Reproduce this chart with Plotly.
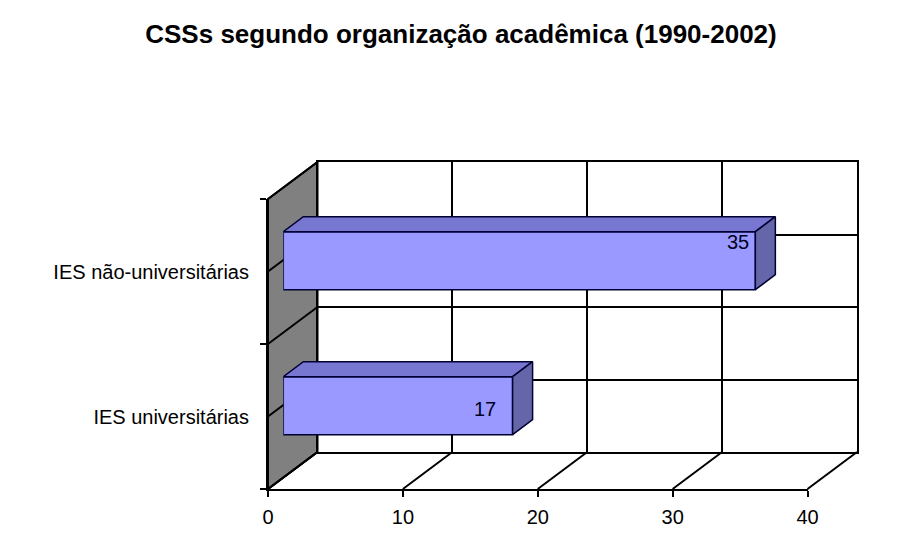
import plotly.graph_objects as go

# ---------------- data ----------------
categories = ["IES universitárias", "IES não-universitárias"]
values = [17, 35]
x_ticks = [0, 10, 20, 30, 40]
title_text = "CSSs segundo organização acadêmica (1990-2002)"

# ---------------- style / geometry ----------------
PAGE_W, PAGE_H = 903, 552
BODY_MARGIN = 8                        # default html body margin
W, H = PAGE_W - 2 * BODY_MARGIN, PAGE_H - 2 * BODY_MARGIN
FRONT_X0, FRONT_X1 = 268.0, 807.5      # pixel position of x=0 / x=40 on front plane
FRONT_TOP, FRONT_BOTTOM = 199.0, 489.0
DEPTH = (49.5, -37.0)                   # front plane -> back wall offset (px)
BAR_OFF = (15.3, -10.8)                 # front plane -> bar front face offset (px)
BAR_DEPTH = (20.0, -15.0)               # bar front face -> bar back face (px)
BAR_WIDTH = 0.4
label_shift = [(-15, -3), (-4, 19)]     # data label offsets (px), per bar

FRONT_COL = "#9999FF"
TOP_COL = "#7777D2"
SIDE_COL = "#6565AA"
EDGE_COL = "#000033"
WALL_COL = "#808080"
FONT = "Liberation Sans, Arial, sans-serif"

XMAX = x_ticks[-1]
YMIN, YMAX = -0.5, len(categories) - 0.5
xscale = (FRONT_X1 - FRONT_X0) / (XMAX - x_ticks[0])
yscale = (FRONT_BOTTOM - FRONT_TOP) / (YMAX - YMIN)


def px(x):
    return (x - BODY_MARGIN) / W


def py(y):
    return 1 - (y - BODY_MARGIN) / H


def dom_x(off):
    return [px(FRONT_X0 + off), px(FRONT_X1 + off)]


def dom_y(off):
    return [py(FRONT_BOTTOM + off), py(FRONT_TOP + off)]


fig = go.Figure()

# invisible anchors so each subplot exists
for ax in ["", "2", "3"]:
    fig.add_trace(go.Scatter(x=[0, XMAX], y=[YMIN, YMAX], mode="markers",
                             marker=dict(opacity=0), hoverinfo="skip",
                             showlegend=False, xaxis="x" + ax, yaxis="y" + ax))

# bars (subplot 3)
ypos = list(range(len(categories)))
fig.add_trace(go.Bar(x=values, y=ypos, orientation="h", width=BAR_WIDTH,
                     marker=dict(color=FRONT_COL, line=dict(color=EDGE_COL, width=1.5)),
                     hoverinfo="skip", showlegend=False, xaxis="x3", yaxis="y3"))

ddx = BAR_DEPTH[0] / xscale
ddy = -BAR_DEPTH[1] / yscale
for v, y in zip(values, ypos):
    top = y + BAR_WIDTH / 2
    bot = y - BAR_WIDTH / 2
    fig.add_trace(go.Scatter(x=[0, v, v + ddx, ddx, 0],
                             y=[top, top, top + ddy, top + ddy, top],
                             fill="toself", fillcolor=TOP_COL, mode="lines",
                             line=dict(color=EDGE_COL, width=1.5),
                             hoverinfo="skip", showlegend=False, xaxis="x3", yaxis="y3"))
    fig.add_trace(go.Scatter(x=[v, v + ddx, v + ddx, v, v],
                             y=[bot, bot + ddy, top + ddy, top, bot],
                             fill="toself", fillcolor=SIDE_COL, mode="lines",
                             line=dict(color=EDGE_COL, width=1.5),
                             hoverinfo="skip", showlegend=False, xaxis="x3", yaxis="y3"))

# data labels
for (v, y), (sx, sy) in zip(zip(values, ypos), label_shift):
    fig.add_annotation(x=v, y=y, xref="x3", yref="y3", text=str(v),
                       showarrow=False, xanchor="right", yanchor="middle",
                       xshift=sx, yshift=sy,
                       font=dict(family=FONT, size=20, color="#000022"))

# side wall and floor (paper shapes)
shapes = []
bx0 = FRONT_X0 + DEPTH[0]
shapes.append(dict(type="path", xref="paper", yref="paper", layer="below",
                   path=f"M {px(FRONT_X0)} {py(FRONT_TOP)} L {px(bx0)} {py(FRONT_TOP + DEPTH[1])} "
                        f"L {px(bx0)} {py(FRONT_BOTTOM + DEPTH[1])} L {px(FRONT_X0)} {py(FRONT_BOTTOM)} Z",
                   fillcolor=WALL_COL, line=dict(color="black", width=2)))
# horizontal levels on the side wall (every half category)
n_lev = int(round((YMAX - YMIN) / 0.5))
for k in range(n_lev + 1):
    yy = FRONT_BOTTOM - k * 0.5 * yscale
    shapes.append(dict(type="line", xref="paper", yref="paper", layer="below",
                       x0=px(FRONT_X0), y0=py(yy), x1=px(bx0), y1=py(yy + DEPTH[1]),
                       line=dict(color="black", width=2)))
# floor lines
for t in x_ticks:
    xx = FRONT_X0 + (t - x_ticks[0]) * xscale
    shapes.append(dict(type="line", xref="paper", yref="paper", layer="below",
                       x0=px(xx), y0=py(FRONT_BOTTOM), x1=px(xx + DEPTH[0]),
                       y1=py(FRONT_BOTTOM + DEPTH[1]),
                       line=dict(color="black", width=2)))

axis_hidden = dict(visible=False, fixedrange=True)

fig.update_layout(
    width=W, height=H, autosize=False,
    template="none",
    margin=dict(l=0, r=0, t=0, b=0),
    paper_bgcolor="white",
    plot_bgcolor="rgba(0,0,0,0)",
    showlegend=False,
    shapes=shapes,
    title=dict(text=title_text, x=px(461), xanchor="center", xref="paper",
               y=py(34), yanchor="middle", yref="paper",
               font=dict(family=FONT, size=26, color="black", weight="bold")),
    # back wall
    xaxis=dict(domain=dom_x(DEPTH[0]), anchor="y", range=[x_ticks[0], XMAX],
               tickvals=x_ticks, showticklabels=False, ticks="",
               showgrid=True, gridcolor="black", gridwidth=2, zeroline=False,
               showline=True, mirror=True, linecolor="black", linewidth=2,
               fixedrange=True),
    yaxis=dict(domain=dom_y(DEPTH[1]), anchor="x", range=[YMIN, YMAX],
               tick0=YMIN, dtick=0.5, showticklabels=False, ticks="",
               showgrid=True, gridcolor="black", gridwidth=2, zeroline=False,
               showline=True, mirror=True, linecolor="black", linewidth=2,
               fixedrange=True),
    # front axes
    xaxis2=dict(domain=dom_x(0), anchor="y2", range=[x_ticks[0], XMAX],
                tickvals=x_ticks, ticks="outside", ticklen=6, tickwidth=2,
                tickcolor="black", showline=True, linecolor="black", linewidth=2,
                showgrid=False, zeroline=False, ticklabelstandoff=3,
                tickfont=dict(family=FONT, size=20, color="black"),
                fixedrange=True),
    yaxis2=dict(domain=dom_y(0), anchor="x2", range=[YMIN, YMAX],
                tickvals=ypos, ticktext=categories, ticks="",
                showline=True, linecolor="black", linewidth=2,
                showgrid=False, zeroline=False, ticklabelstandoff=13,
                tickfont=dict(family=FONT, size=20, color="black"),
                minor=dict(tickvals=[YMIN + k for k in range(len(categories) + 1)],
                           ticks="outside", ticklen=6, tickwidth=2, tickcolor="black",
                           showgrid=False),
                fixedrange=True),
    # bars
    xaxis3=dict(domain=dom_x(BAR_OFF[0]), anchor="y3", range=[x_ticks[0], XMAX], **axis_hidden),
    yaxis3=dict(domain=dom_y(BAR_OFF[1]), anchor="x3", range=[YMIN, YMAX], **axis_hidden),
)

fig.write_html("out.html")
